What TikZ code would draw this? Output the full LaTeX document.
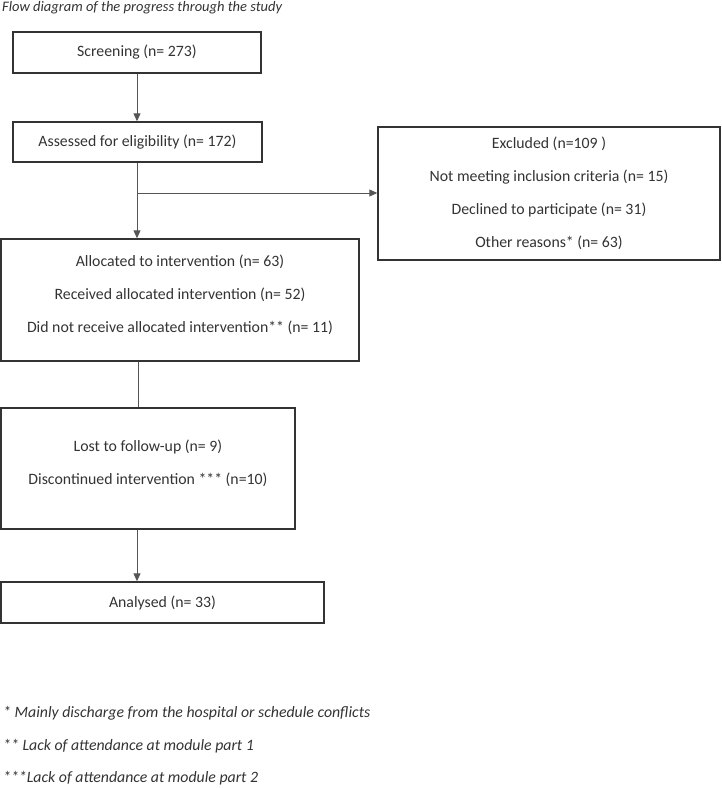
\documentclass[tikz,border=0pt]{standalone}
\usepackage{fontspec}
\setmainfont{Carlito}
\usetikzlibrary{arrows.meta}
\definecolor{ink}{HTML}{333333}
\definecolor{wire}{HTML}{555555}
\tikzset{
  box/.style={draw=ink, line width=1.4pt, inner sep=0pt},
  txt/.style={align=center, text=ink, inner sep=0pt, font=\fontsize{15.8}{33}\selectfont},
  conn/.style={draw=wire, line width=0.9pt},
  arr/.style={conn, -{Triangle[length=8pt,width=7pt]}},
  note/.style={anchor=west, inner sep=0pt, text=ink, font=\fontsize{15.8}{18}\selectfont\itshape},
  titlenote/.style={note, font=\fontsize{14.5}{17}\selectfont\itshape}
}
\begin{document}
\begin{tikzpicture}[x=1pt,y=-1pt]
\useasboundingbox (0,0) rectangle (721,788);
\node[titlenote] (title) at (2,8) {Flow diagram of the progress through the study};

\node[box, txt, minimum width=248pt, minimum height=41pt] (screen) at (137,52.5) {Screening (n= 273)};
\node[box, txt, minimum width=249pt, minimum height=40pt] (assess) at (137.5,142) {Assessed for eligibility (n= 172)};
\node[box, txt, minimum width=342pt, minimum height=133pt] (excl) at (549,193.5)
  {Excluded (n=109 )\\Not meeting inclusion criteria (n= 15)\\Declined to participate (n= 31)\\Other reasons* (n= 63)};

\node[box, minimum width=358pt, minimum height=122pt] (alloc) at (180,300) {};
\node[txt] (alloctext) at (180,295)
  {Allocated to intervention (n= 63)\\Received allocated intervention (n= 52)\\Did not receive allocated intervention** (n= 11)};

\node[box, minimum width=294pt, minimum height=121pt] (lost) at (148,468.5) {};
\node[txt] (losttext) at (148,463.5)
  {Lost to follow-up (n= 9)\\Discontinued intervention *** (n=10)};

\node[box, txt, minimum width=323pt, minimum height=41pt] (anal) at (162.5,602.5) {Analysed (n= 33)};

\coordinate (split) at (137,193);
\draw[arr] (screen.south -| 137,0) -- (assess.north -| 137,0);
\draw[arr] (assess.south -| 137,0) -- (alloc.north -| 137,0);
\draw[arr] (split) -- (excl.west |- split);
\draw[conn] (alloc.south -| 138,0) -- (lost.north -| 138,0);
\draw[arr] (lost.south -| 137,0) -- (anal.north -| 137,0);

\node[note] (fn1) at (3,713) {* Mainly discharge from the hospital or schedule conflicts};
\node[note] (fn2) at (3,746) {** Lack of attendance at module part 1};
\node[note] (fn3) at (3,778) {***Lack of attendance at module part 2};
\end{tikzpicture}
\end{document}
